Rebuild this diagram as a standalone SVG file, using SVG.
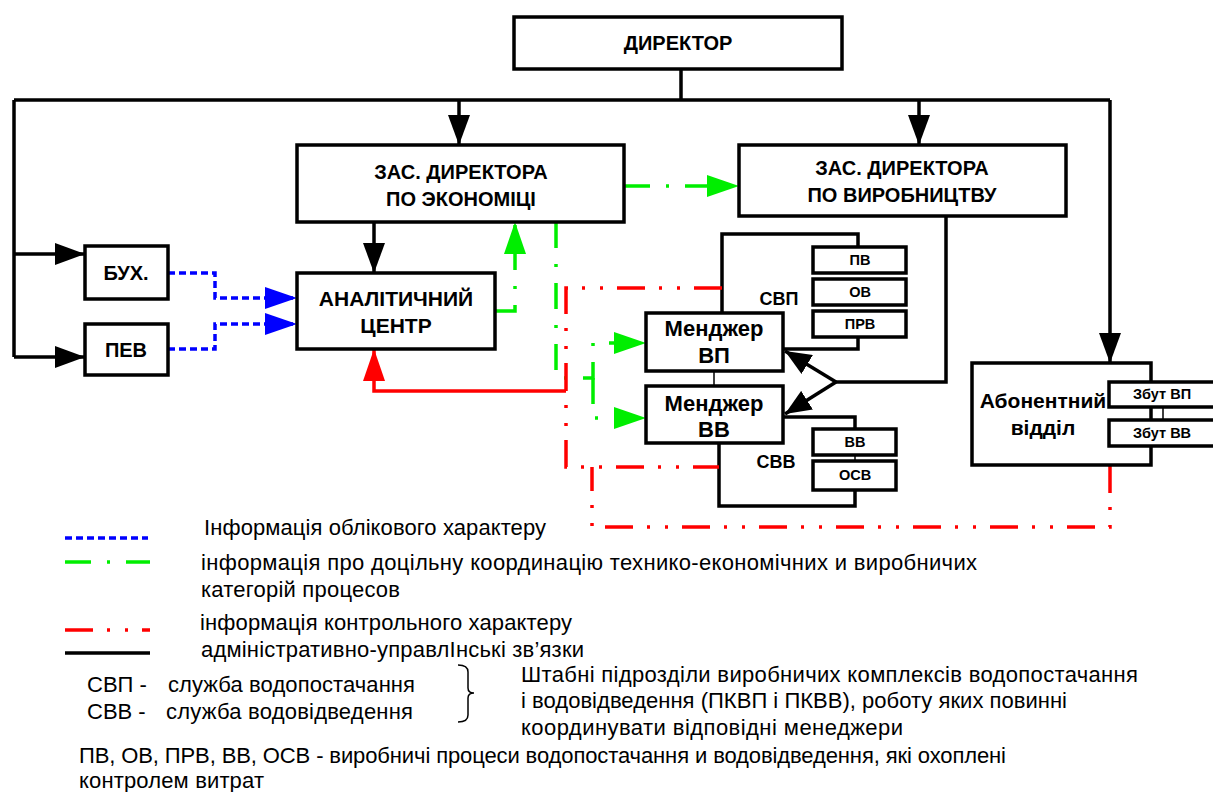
<svg xmlns="http://www.w3.org/2000/svg" width="1213" height="792" viewBox="0 0 1213 792">
<style>
.box{fill:#fff;stroke:#000;stroke-width:3.5}
.bt{font-family:"Liberation Sans",Arial,sans-serif;font-weight:bold;font-size:20px;text-anchor:middle;fill:#000}
.bl{font-family:"Liberation Sans",Arial,sans-serif;font-weight:bold;font-size:21px;text-anchor:middle;fill:#000}
.bm{font-family:"Liberation Sans",Arial,sans-serif;font-weight:bold;font-size:22px;text-anchor:middle;fill:#000}
.bs{font-family:"Liberation Sans",Arial,sans-serif;font-weight:bold;font-size:18px;text-anchor:middle;fill:#000}
.st{font-family:"Liberation Sans",Arial,sans-serif;font-weight:bold;font-size:14.5px;text-anchor:middle;fill:#000}
.lt{font-family:"Liberation Sans",Arial,sans-serif;font-size:22px;fill:#000}
.blk{fill:none;stroke:#000;stroke-width:3.5}
.thin{fill:none;stroke:#000;stroke-width:1.5}
.blue{fill:none;stroke:#0000ff;stroke-width:3.5;stroke-dasharray:7 4}
.green{fill:none;stroke:#00ee00;stroke-width:3.5;stroke-dasharray:26 16 3 16}
.red{fill:none;stroke:#ff0000;stroke-width:3.5;stroke-dasharray:28 14 3 15 3 14}
.reds{fill:none;stroke:#ff0000;stroke-width:3.5}
</style>
<defs>
<marker id="ab" markerUnits="userSpaceOnUse" markerWidth="32" markerHeight="22" refX="30" refY="11" orient="auto"><path d="M0,0 L30,11 L0,22 Z" fill="#000"/></marker>
<marker id="ab2" markerUnits="userSpaceOnUse" markerWidth="28" markerHeight="22" refX="26" refY="11" orient="auto"><path d="M0,0 L26,11 L0,22 Z" fill="#000"/></marker>
<marker id="ag" markerUnits="userSpaceOnUse" markerWidth="34" markerHeight="22" refX="32" refY="11" orient="auto"><path d="M0,0 L32,11 L0,22 Z" fill="#00ee00"/></marker>
<marker id="abl" markerUnits="userSpaceOnUse" markerWidth="34" markerHeight="22" refX="32" refY="11" orient="auto"><path d="M0,0 L32,11 L0,22 Z" fill="#0000ff"/></marker>
<marker id="ar" markerUnits="userSpaceOnUse" markerWidth="34" markerHeight="22" refX="32" refY="11" orient="auto"><path d="M0,0 L32,11 L0,22 Z" fill="#ff0000"/></marker>
</defs>
<rect width="1213" height="792" fill="#fff"/>

<g id="connectors">
<path class="blk" d="M681,69 V100 M14,100 H1110 M14,100 V357"/>
<path class="blk" d="M459,100 V145" marker-end="url(#ab)"/>
<path class="blk" d="M919,100 V145" marker-end="url(#ab)"/>
<path class="blk" d="M1110,100 V363" marker-end="url(#ab)"/>
<path class="blk" d="M14,254 H85" marker-end="url(#ab)"/>
<path class="blk" d="M14,357 H85" marker-end="url(#ab)"/>
<path class="blk" d="M374,222 V273" marker-end="url(#ab)"/>
<path class="blk" d="M946,216 V382 H836"/>
<path class="blk" d="M836,382 L785,351" marker-end="url(#ab2)"/>
<path class="blk" d="M836,382 L785,414" marker-end="url(#ab2)"/>
<path class="blk" d="M722,313 V234 H858 V247 M858,337 V349 H783"/>
<path class="blk" d="M783,417 H855 V429 M855,490 V506 H719 V443"/>
<path class="thin" d="M714,371 V386 M855,455 V461 M1163,407 V420"/>
<path class="blue" d="M168,273 H215 V298 H297" marker-end="url(#abl)"/>
<path class="blue" d="M168,349 H215 V324 H297" marker-end="url(#abl)"/>
<path class="green" d="M624,186 H739" marker-end="url(#ag)"/>
<path class="green" d="M495,311 H515 V222" marker-end="url(#ag)"/>
<path class="green" d="M556,222 V378 H593 V343 H646" marker-end="url(#ag)"/>
<path class="green" d="M593,378 V418 H646" marker-end="url(#ag)"/>
<path class="reds" d="M566,391 H374 V349" marker-end="url(#ar)"/>
<path class="red" d="M722,288 H566 V467 H719"/>
<path class="red" d="M1110,465 V527 H592 V467"/>
</g>

<g id="director"><rect class="box" x="514" y="17" width="328" height="52"/><text class="bt" x="678" y="50">ДИРЕКТОР</text></g>
<g id="zas-econ"><rect class="box" x="297" y="145" width="327" height="77"/><text class="bt" x="461" y="179">ЗАС. ДИРЕКТОРА</text><text class="bt" x="461" y="206">ПО ЭКОНОМІЦІ</text></g>
<g id="zas-vyrob"><rect class="box" x="739" y="145" width="327" height="71"/><text class="bt" x="902" y="175">ЗАС. ДИРЕКТОРА</text><text class="bt" x="902" y="202">ПО ВИРОБНИЦТВУ</text></g>
<g id="buh"><rect class="box" x="85" y="246" width="83" height="53"/><text class="bt" x="126" y="280">БУХ.</text></g>
<g id="pev"><rect class="box" x="85" y="324" width="83" height="51"/><text class="bt" x="126" y="357">ПЕВ</text></g>
<g id="analit"><rect class="box" x="297" y="273" width="198" height="76"/><text class="bl" x="396" y="306">АНАЛІТИЧНИЙ</text><text class="bl" x="396" y="333">ЦЕНТР</text></g>
<g id="men-vp"><rect class="box" x="646" y="313" width="137" height="58"/><text class="bm" x="714" y="336">Менджер</text><text class="bm" x="714" y="363">ВП</text></g>
<g id="men-vv"><rect class="box" x="646" y="386" width="137" height="57"/><text class="bm" x="714" y="411">Менджер</text><text class="bm" x="714" y="437">ВВ</text></g>
<g id="svp-label"><text class="bs" x="779" y="305">СВП</text></g>
<g id="svv-label"><text class="bs" x="776" y="468">СВВ</text></g>
<g id="pv"><rect class="box" x="813" y="247" width="93" height="26"/><text class="st" x="860" y="265">ПВ</text></g>
<g id="ov"><rect class="box" x="813" y="279" width="93" height="26"/><text class="st" x="860" y="297">ОВ</text></g>
<g id="prv"><rect class="box" x="813" y="311" width="93" height="26"/><text class="st" x="860" y="329">ПРВ</text></g>
<g id="vv"><rect class="box" x="813" y="429" width="83" height="26"/><text class="st" x="855" y="447">ВВ</text></g>
<g id="osv"><rect class="box" x="813" y="461" width="83" height="29"/><text class="st" x="855" y="480">ОСВ</text></g>
<g id="abon"><rect class="box" x="972" y="363" width="179" height="102"/><text class="bl" x="1043" y="408">Абонентний</text><text class="bl" x="1043" y="435">відділ</text></g>
<g id="zbut-vp"><rect class="box" x="1109" y="382" width="115" height="25"/><text class="st" x="1162" y="399">Збут ВП</text></g>
<g id="zbut-vv"><rect class="box" x="1109" y="420" width="115" height="26"/><text class="st" x="1162" y="438">Збут ВВ</text></g>

<g id="legend">
<line class="blue" x1="65" y1="538" x2="148" y2="538"/>
<line class="green" x1="65" y1="562" x2="150" y2="562"/>
<line class="red" x1="65" y1="630" x2="150" y2="630"/>
<line class="blk" x1="65" y1="653" x2="150" y2="653"/>
<text class="lt" x="204" y="535" textLength="342">Інформація облікового характеру</text>
<text class="lt" x="201" y="570" textLength="776">інформація про доцільну координацію технико-економічних и виробничих</text>
<text class="lt" x="201" y="597" textLength="199">категорій процесов</text>
<text class="lt" x="200" y="630" textLength="372">інформація контрольного характеру</text>
<text class="lt" x="201" y="657" textLength="383">адміністративно-управлІнські зв’язки</text>
<text class="lt" x="87" y="692">СВП -</text>
<text class="lt" x="168" y="692" textLength="247">служба водопостачання</text>
<text class="lt" x="87" y="719">СВВ -</text>
<text class="lt" x="166" y="719" textLength="247">служба водовідведення</text>
<path class="thin" d="M458,665 Q468,665 468,672 V688 Q468,693 474,693 Q468,693 468,698 V715 Q468,722 458,722"/>
<text class="lt" x="521" y="682" textLength="617">Штабні підрозділи виробничих комплексів  водопостачання</text>
<text class="lt" x="521" y="708" textLength="546">і водовідведення (ПКВП і ПКВВ), роботу яких повинні</text>
<text class="lt" x="521" y="735" textLength="382">координувати відповідні менеджери</text>
<text class="lt" x="79" y="763" textLength="927">ПВ, ОВ, ПРВ, ВВ, ОСВ - виробничі процеси водопостачання и водовідведення, які охоплені</text>
<text class="lt" x="79" y="788" textLength="185">контролем витрат</text>
</g>
</svg>
